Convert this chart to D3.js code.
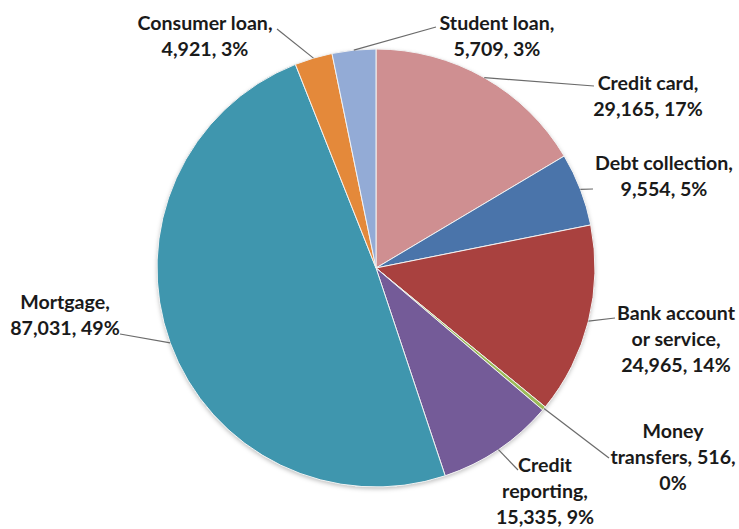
<!DOCTYPE html>
<html>
<head>
<meta charset="utf-8">
<script src="https://cdn.jsdelivr.net/npm/d3@7"></script>
<style>
  html, body { margin: 0; padding: 0; background: #ffffff; }
  svg { display: block; }
  text { font-family: Lato, "Open Sans", sans-serif; font-weight: bold; fill: #1a1a1a; }
</style>
</head>
<body>
<svg id="chart" width="739" height="529"></svg>
<script>
// ---- data ----
const categories = ["Credit card", "Debt collection", "Bank account or service", "Money transfers",
                    "Credit reporting", "Mortgage", "Consumer loan", "Student loan"];
const values     = [29165, 9554, 24965, 516, 15335, 87031, 4921, 5709];
const percents   = ["17%", "5%", "14%", "0%", "9%", "49%", "3%", "3%"];
const colors     = ["#CF8F91", "#4A74AA", "#A9413F", "#9BBB59", "#745B98", "#3F96AE", "#E4893A", "#93ABD6"];

// label text lines (as wrapped in the picture)
const labelLines = [
  ["Credit card,", "29,165, 17%"],
  ["Debt collection,", "9,554, 5%"],
  ["Bank account", "or service,", "24,965, 14%"],
  ["Money", "transfers, 516,", "0%"],
  ["Credit", "reporting,", "15,335, 9%"],
  ["Mortgage,", "87,031, 49%"],
  ["Consumer loan,", "4,921, 3%"],
  ["Student loan,", "5,709, 3%"]
];

// ---- layout ----
const W = 739, H = 529;
const cx = 376, cy = 268, R = 219;
const fontSize = 19.6, lineH = 26;
// label block: centre x, first-line centre y, leader end point
const labelLayout = [
  {x: 648, y: 83,  lx: 594, ly: 86},
  {x: 664, y: 163, lx: 593, ly: 189},
  {x: 676, y: 313, lx: 615, ly: 318},
  {x: 673, y: 431, lx: 609, ly: 458},
  {x: 545, y: 465, lx: 518, ly: 470},
  {x: 65,  y: 302, lx: 120, ly: 334},
  {x: 205, y: 23,  lx: 277, ly: 29},
  {x: 497, y: 23,  lx: 436, ly: 27}
];

const svg = d3.select("#chart");
const defs = svg.append("defs");
const f = defs.append("filter").attr("id", "shadow").attr("x", "-10%").attr("y", "-10%").attr("width", "120%").attr("height", "120%");
f.append("feDropShadow").attr("dx", 0).attr("dy", 2).attr("stdDeviation", 2).attr("flood-color", "#000").attr("flood-opacity", 0.25);

const data = categories.map((c, i) => ({name: c, value: values[i], color: colors[i], pct: percents[i], i}));

const pie = d3.pie().value(d => d.value).sort(null).startAngle(0).endAngle(2 * Math.PI);
const arcs = pie(data);
const arc = d3.arc().innerRadius(0).outerRadius(R);

const g = svg.append("g").attr("transform", `translate(${cx},${cy})`);
g.append("circle").attr("r", R).attr("fill", "#fff").attr("filter", "url(#shadow)");
g.selectAll("path.slice").data(arcs).join("path")
  .attr("class", "slice")
  .attr("d", arc)
  .attr("fill", d => d.data.color)
  .attr("stroke", "#f2f2f2")
  .attr("stroke-width", 1);

// leader lines from pie edge at slice mid-angle to label
arcs.forEach((a, i) => {
  const mid = (a.startAngle + a.endAngle) / 2;
  const sx = cx + R * Math.sin(mid), sy = cy - R * Math.cos(mid);
  const L = labelLayout[i];
  svg.append("line")
    .attr("x1", sx).attr("y1", sy).attr("x2", L.lx).attr("y2", L.ly)
    .attr("stroke", "#6b6b6b").attr("stroke-width", 1.2);
});

// labels
arcs.forEach((a, i) => {
  const L = labelLayout[i];
  const t = svg.append("text")
    .attr("text-anchor", "middle")
    .attr("font-size", fontSize);
  labelLines[i].forEach((line, k) => {
    t.append("tspan").attr("x", L.x).attr("y", L.y + k * lineH + fontSize * 0.35).text(line);
  });
});
</script>
</body>
</html>
